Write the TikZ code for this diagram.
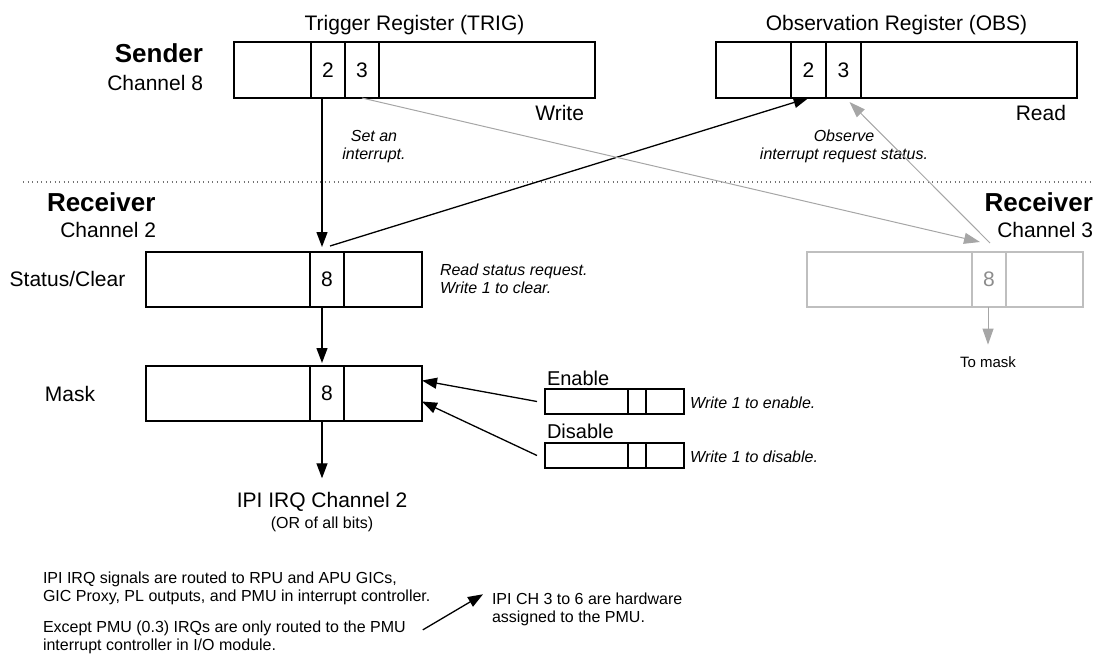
\documentclass[tikz,border=0pt]{standalone}
\usepackage{fontspec}
\setmainfont{Liberation Sans}
\usetikzlibrary{arrows.meta}
\newcommand\fBig{\fontsize{26}{30}\selectfont\bfseries}
\newcommand\fMid{\fontsize{21}{25}\selectfont}
\newcommand\fLab{\fontsize{20}{24}\selectfont}
\newcommand\fSm{\fontsize{16}{19}\selectfont}
\newcommand\fTiny{\fontsize{15}{18}\selectfont}
\begin{document}
\begin{tikzpicture}[x=1pt,y=-1pt,
  cell/.style={draw, line width=2.4pt, inner sep=0pt, outer sep=0pt, font=\fMid},
  gcell/.style={cell, draw=black!25, line width=2.2pt, text=black!45},
  txt/.style={inner sep=0pt, outer sep=0pt},
  note/.style={txt, font=\fSm\itshape},
  body/.style={txt, font=\fSm},
  arr/.style={line width=1.3pt, -{Triangle[length=15pt,width=11pt]}},
  garr/.style={color=black!35, line width=1pt, -{Triangle[length=16pt,width=11pt]}}]
\useasboundingbox (0,0) rectangle (1100,665);

% separator
\draw[black!55, line width=1.2pt, dash pattern=on 1.2pt off 3.3pt] (23,182) -- (1092,182);

% titles and side labels
\node[txt, font=\fMid, anchor=base] (trigtitle) at (414.5,30.5) {Trigger Register (TRIG)};
\node[txt, font=\fMid, anchor=base] (obstitle) at (896.5,30.5) {Observation Register (OBS)};
\node[txt, font=\fBig, anchor=base east] (sender) at (203,62.4) {Sender};
\node[txt, font=\fMid, anchor=base east] (ch8) at (203,90.5) {Channel 8};
\node[txt, font=\fMid, anchor=base east] (write) at (584,120.5) {Write};
\node[txt, font=\fMid, anchor=base east] (read) at (1066,120.5) {Read};

% TRIG register
\node[cell, minimum width=77pt, minimum height=56pt] (t1) at (272.5,70) {};
\node[cell, minimum width=34pt, minimum height=56pt] (t2) at (328,70) {2};
\node[cell, minimum width=34pt, minimum height=56pt] (t3) at (362,70) {3};
\node[cell, minimum width=216pt, minimum height=56pt] (t4) at (487,70) {};

% OBS register
\node[cell, minimum width=75pt, minimum height=56pt] (o1) at (753.5,70) {};
\node[cell, minimum width=35pt, minimum height=56pt] (o2) at (808.5,70) {2};
\node[cell, minimum width=35pt, minimum height=56pt] (o3) at (843.5,70) {3};
\node[cell, minimum width=216pt, minimum height=56pt] (o4) at (969,70) {};

% notes under registers
\node[note, anchor=base] (setan1) at (374,141) {Set an};
\node[note, anchor=base] (setan2) at (374,159) {interrupt.};
\node[note, anchor=base] (obsv1) at (844,141) {Observe};
\node[note, anchor=base] (obsv2) at (844,159) {interrupt request status.};

% receiver labels
\node[txt, font=\fBig, anchor=base west] (recv2) at (47,211.4) {Receiver};
\node[txt, font=\fMid, anchor=base east] (ch2) at (156,237.5) {Channel 2};
\node[txt, font=\fBig, anchor=base east] (recv3) at (1093,211.4) {Receiver};
\node[txt, font=\fMid, anchor=base east] (ch3) at (1093,237.5) {Channel 3};

% status / clear register
\node[txt, font=\fMid, anchor=base] (stlab) at (67.5,286.5) {Status/Clear};
\node[cell, minimum width=164pt, minimum height=55pt] (s1) at (228,279.5) {};
\node[cell, minimum width=34pt, minimum height=55pt] (s8) at (327,279.5) {8};
\node[cell, minimum width=78pt, minimum height=55pt] (s3) at (383,279.5) {};
\node[note, anchor=base west] (rd1) at (440,275) {Read status request.};
\node[note, anchor=base west] (rd2) at (440,293) {Write 1 to clear.};

% mask register
\node[txt, font=\fMid, anchor=base] (mklab) at (70,401) {Mask};
\node[cell, minimum width=164pt, minimum height=55pt] (m1) at (228,393.5) {};
\node[cell, minimum width=34pt, minimum height=55pt] (m8) at (327,393.5) {8};
\node[cell, minimum width=78pt, minimum height=55pt] (m3) at (383,393.5) {};

% enable / disable
\node[txt, font=\fLab, anchor=base west] (enlab) at (547,385) {Enable};
\node[cell, minimum width=83pt, minimum height=25pt] (e1) at (586.5,401.5) {};
\node[cell, minimum width=18pt, minimum height=25pt] (e2) at (637,401.5) {};
\node[cell, minimum width=38pt, minimum height=25pt] (e3) at (665,401.5) {};
\node[note, anchor=base west] (ennote) at (690,408) {Write 1 to enable.};
\node[txt, font=\fLab, anchor=base west] (dislab) at (547,438.5) {Disable};
\node[cell, minimum width=83pt, minimum height=25pt] (d1) at (586.5,455.5) {};
\node[cell, minimum width=18pt, minimum height=25pt] (d2) at (637,455.5) {};
\node[cell, minimum width=38pt, minimum height=25pt] (d3) at (665,455.5) {};
\node[note, anchor=base west] (disnote) at (690,462) {Write 1 to disable.};

% IPI output
\node[txt, font=\fMid, anchor=base] (ipi) at (322,507.5) {IPI IRQ Channel 2};
\node[txt, font=\fSm, anchor=base] (orall) at (322,528.5) {(OR of all bits)};

% channel 3 (gray)
\node[gcell, minimum width=165pt, minimum height=55pt] (g1) at (889.5,279.5) {};
\node[gcell, minimum width=34pt, minimum height=55pt] (g8) at (989,279.5) {8};
\node[gcell, minimum width=77pt, minimum height=55pt] (g3) at (1044.5,279.5) {};
\node[txt, font=\fTiny, anchor=base] (tomask) at (988,367.5) {To mask};

% bottom notes
\node[body, anchor=base west] (n1) at (43,583) {IPI IRQ signals are routed to RPU and APU GICs,};
\node[body, anchor=base west] (n2) at (43,601) {GIC Proxy, PL outputs, and PMU in interrupt controller.};
\node[body, anchor=base west] (n3) at (43,632) {Except PMU (0.3) IRQs are only routed to the PMU};
\node[body, anchor=base west] (n4) at (43,650) {interrupt controller in I/O module.};
\node[body, anchor=base west] (p1) at (492,604) {IPI CH 3 to 6 are hardware};
\node[body, anchor=base west] (p2) at (492,622) {assigned to the PMU.};

% connectors (black)
\draw[arr] ([xshift=-6pt]t2.south) -- ([xshift=-5pt,yshift=5pt]s8.north);
\draw[arr] ([xshift=3pt,yshift=6pt]s8.north) -- (o2.south);
\draw[arr] ([xshift=-5pt]s8.south) -- ([xshift=-5pt,yshift=3pt]m8.north);
\draw[arr] ([xshift=-5pt]m8.south) -- ([yshift=14pt]ipi.north);
\draw[arr] ([xshift=-8pt]e1.west) -- ([yshift=13pt]m3.east);
\draw[arr] ([xshift=-8pt]d1.west) -- ([yshift=-8pt]m3.east);
\draw[arr] ([xshift=17pt,yshift=-2pt]n3.east) -- ([xshift=-9pt,yshift=4pt]p1.west);

% connectors (gray)
\draw[garr] (t3.south) -- ([xshift=-9pt,yshift=10pt]g8.north);
\draw[garr] ([xshift=1pt,yshift=9pt]g8.north) -- ([xshift=6pt,yshift=-4pt]o3.south);
\draw[garr] ([xshift=-1pt]g8.south) -- ([yshift=12pt]tomask.north);
\end{tikzpicture}
\end{document}
